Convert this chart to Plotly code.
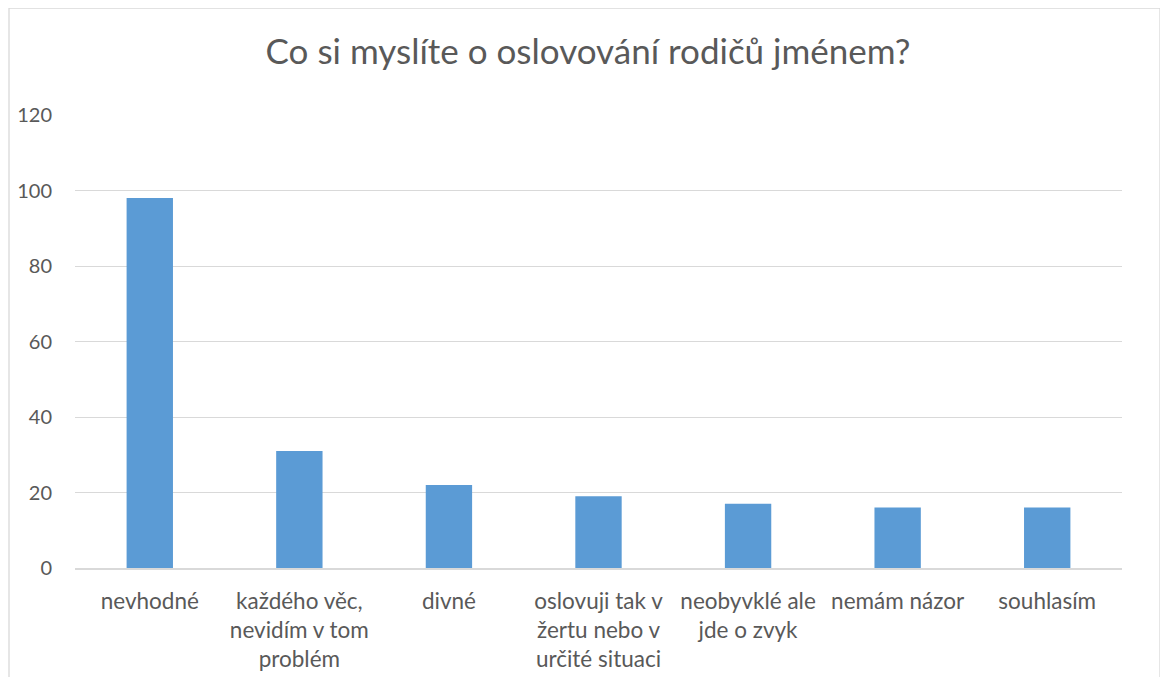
import plotly.graph_objects as go

categories = ["nevhodné", "každého věc,<br>nevidím v tom<br>problém", "divné",
              "oslovuji tak v<br>žertu nebo v<br>určité situaci", "neobyvklé ale<br>jde o zvyk",
              "nemám názor", "souhlasím"]
values = [98, 31, 22, 19, 17, 16, 16]
y_ticks = [0, 20, 40, 60, 80, 100, 120]

FONT = "Lato"
GREY = "#595959"

fig = go.Figure(go.Bar(x=categories, y=values, marker_color="#5b9bd5",
                       marker_line_width=0, width=0.31))

# page has an 8px body margin; compensate
OFF = 8
W, H = 1168 - OFF, 677 - OFF
L, T = 75 - OFF, 115 - OFF
R = W - (1122 - OFF)
B = H - (568 - OFF)
pw, ph = W - L - R, H - T - B

def px2paper_x(px):
    return (px - OFF - L) / pw

def px2paper_y(py):
    return (H - B - (py - OFF)) / ph

fig.update_layout(
    width=W, height=H,
    margin=dict(l=L, r=R, t=T, b=B, autoexpand=False),
    paper_bgcolor="white", plot_bgcolor="white",
    title=dict(text="Co si myslíte o oslovování rodičů jménem?", x=0.5, xanchor="center",
               y=1 - (52 - OFF) / H, yanchor="middle",
               font=dict(family=FONT, size=35, color=GREY)),
    font=dict(family=FONT, size=22, color=GREY),
    showlegend=False,
    bargap=0.69,
    xaxis=dict(showgrid=False, showline=True, linecolor="#d9d9d9", linewidth=1.5,
               ticks="", tickfont=dict(family=FONT, size=22.5, color=GREY), tickangle=0,
               ticklabelstandoff=12, automargin=False, fixedrange=True),
    yaxis=dict(range=[0, 120], tickvals=y_ticks, showgrid=True, gridcolor="#d9d9d9",
               gridwidth=1.3, zeroline=False, showline=False, ticks="",
               tickfont=dict(family=FONT, size=20, color=GREY), ticklabelstandoff=22,
               automargin=False, fixedrange=True),
    shapes=[dict(type="rect", xref="paper", yref="paper",
                 x0=px2paper_x(9), x1=px2paper_x(1160), y0=px2paper_y(700), y1=px2paper_y(8),
                 line=dict(color="#d9d9d9", width=1.3), fillcolor="rgba(0,0,0,0)", layer="below")],
)

fig.write_html("out.html")
